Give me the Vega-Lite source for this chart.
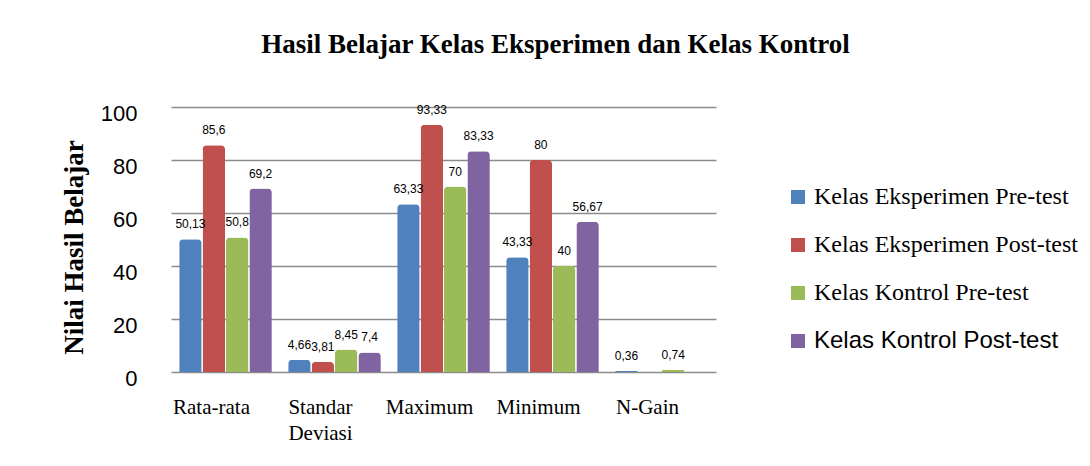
{
  "$schema": "https://vega.github.io/schema/vega-lite/v6.json",
  "autosize": {"type": "none"},
  "width": 545,
  "height": 265,
  "padding": {"left": 171, "top": 107, "right": 374, "bottom": 94},
  "background": "white",
  "title": {
    "text": "Hasil Belajar Kelas Eksperimen dan Kelas Kontrol",
    "font": "Liberation Serif",
    "fontSize": 27,
    "fontWeight": "bold",
    "color": "black",
    "anchor": "middle",
    "dx": 112,
    "offset": 43
  },
  "data": {
    "values": [
      {"kategori": "Rata-rata", "seri": "Kelas Eksperimen Pre-test", "nilai": 50.13, "label": "50,13"},
      {"kategori": "Rata-rata", "seri": "Kelas Eksperimen Post-test", "nilai": 85.6, "label": "85,6"},
      {"kategori": "Rata-rata", "seri": "Kelas Kontrol Pre-test", "nilai": 50.8, "label": "50,8"},
      {"kategori": "Rata-rata", "seri": "Kelas Kontrol Post-test", "nilai": 69.2, "label": "69,2"},
      {"kategori": "Standar Deviasi", "seri": "Kelas Eksperimen Pre-test", "nilai": 4.66, "label": "4,66"},
      {"kategori": "Standar Deviasi", "seri": "Kelas Eksperimen Post-test", "nilai": 3.81, "label": "3,81"},
      {"kategori": "Standar Deviasi", "seri": "Kelas Kontrol Pre-test", "nilai": 8.45, "label": "8,45"},
      {"kategori": "Standar Deviasi", "seri": "Kelas Kontrol Post-test", "nilai": 7.4, "label": "7,4"},
      {"kategori": "Maximum", "seri": "Kelas Eksperimen Pre-test", "nilai": 63.33, "label": "63,33"},
      {"kategori": "Maximum", "seri": "Kelas Eksperimen Post-test", "nilai": 93.33, "label": "93,33"},
      {"kategori": "Maximum", "seri": "Kelas Kontrol Pre-test", "nilai": 70, "label": "70"},
      {"kategori": "Maximum", "seri": "Kelas Kontrol Post-test", "nilai": 83.33, "label": "83,33"},
      {"kategori": "Minimum", "seri": "Kelas Eksperimen Pre-test", "nilai": 43.33, "label": "43,33"},
      {"kategori": "Minimum", "seri": "Kelas Eksperimen Post-test", "nilai": 80, "label": "80"},
      {"kategori": "Minimum", "seri": "Kelas Kontrol Pre-test", "nilai": 40, "label": "40"},
      {"kategori": "Minimum", "seri": "Kelas Kontrol Post-test", "nilai": 56.67, "label": "56,67"},
      {"kategori": "N-Gain", "seri": "Kelas Eksperimen Pre-test", "nilai": 0.36, "label": "0,36"},
      {"kategori": "N-Gain", "seri": "Kelas Kontrol Pre-test", "nilai": 0.74, "label": "0,74"}
    ]
  },
  "encoding": {
    "x": {
      "field": "kategori",
      "type": "nominal",
      "sort": ["Rata-rata", "Standar Deviasi", "Maximum", "Minimum", "N-Gain"],
      "scale": {"paddingInner": 0.15, "paddingOuter": 0.075},
      "axis": {
        "title": null,
        "labelAngle": 0,
        "labelFont": "Liberation Serif",
        "labelFontSize": 21,
        "labelColor": "black",
        "labelPadding": 24,
        "labelLineHeight": 26,
        "labelOffset": -14,
        "labelExpr": "datum.label == 'Standar Deviasi' ? ['Standar', 'Deviasi'] : datum.label",
        "ticks": false,
        "domain": false
      }
    },
    "xOffset": {
      "field": "seri",
      "type": "nominal",
      "sort": ["Kelas Eksperimen Pre-test", "Kelas Eksperimen Post-test", "Kelas Kontrol Pre-test", "Kelas Kontrol Post-test"],
      "scale": {"paddingInner": 0.04}
    },
    "y": {
      "field": "nilai",
      "type": "quantitative",
      "scale": {"domain": [0, 100]},
      "axis": {
        "title": "Nilai Hasil Belajar",
        "titleFont": "Liberation Serif",
        "titleFontSize": 27,
        "titleFontWeight": "bold",
        "titleColor": "black",
        "titlePadding": 12,
        "titleY": 140,
        "values": [0, 20, 40, 60, 80, 100],
        "labelFont": "Liberation Sans",
        "labelFontSize": 22,
        "labelColor": "black",
        "labelPadding": 34,
        "labelOffset": 6,
        "ticks": false,
        "domain": false,
        "grid": true,
        "gridColor": "#8c8c8c",
        "gridWidth": 1.5
      }
    },
    "color": {
      "field": "seri",
      "type": "nominal",
      "sort": ["Kelas Eksperimen Pre-test", "Kelas Eksperimen Post-test", "Kelas Kontrol Pre-test", "Kelas Kontrol Post-test"],
      "scale": {
        "domain": ["Kelas Eksperimen Pre-test", "Kelas Eksperimen Post-test", "Kelas Kontrol Pre-test", "Kelas Kontrol Post-test"],
        "range": ["#4F81BD", "#C0504D", "#9BBB59", "#8064A2"]
      },
      "legend": {
        "title": null,
        "orient": "none",
        "legendX": 615,
        "legendY": 78,
        "symbolType": "square",
        "symbolSize": 196,
        "symbolStrokeWidth": 0,
        "labelFont": "Liberation Serif",
        "labelFontSize": 24,
        "labelColor": "black",
        "labelOffset": 4,
        "rowPadding": 24,
        "labelLimit": 400,
        "encode": {
          "labels": {
            "update": {
              "font": {"signal": "datum.value == 'Kelas Kontrol Post-test' ? 'Liberation Sans' : 'Liberation Serif'"}
            }
          }
        }
      }
    }
  },
  "layer": [
    {
      "mark": {"type": "bar", "cornerRadiusEnd": 4}
    },
    {
      "mark": {"type": "text", "font": "Liberation Sans", "fontSize": 12, "color": "black", "baseline": "bottom", "dy": -8},
      "encoding": {"text": {"field": "label"}, "color": {"value": "black"}}
    }
  ],
  "config": {
    "view": {"stroke": null}
  }
}
